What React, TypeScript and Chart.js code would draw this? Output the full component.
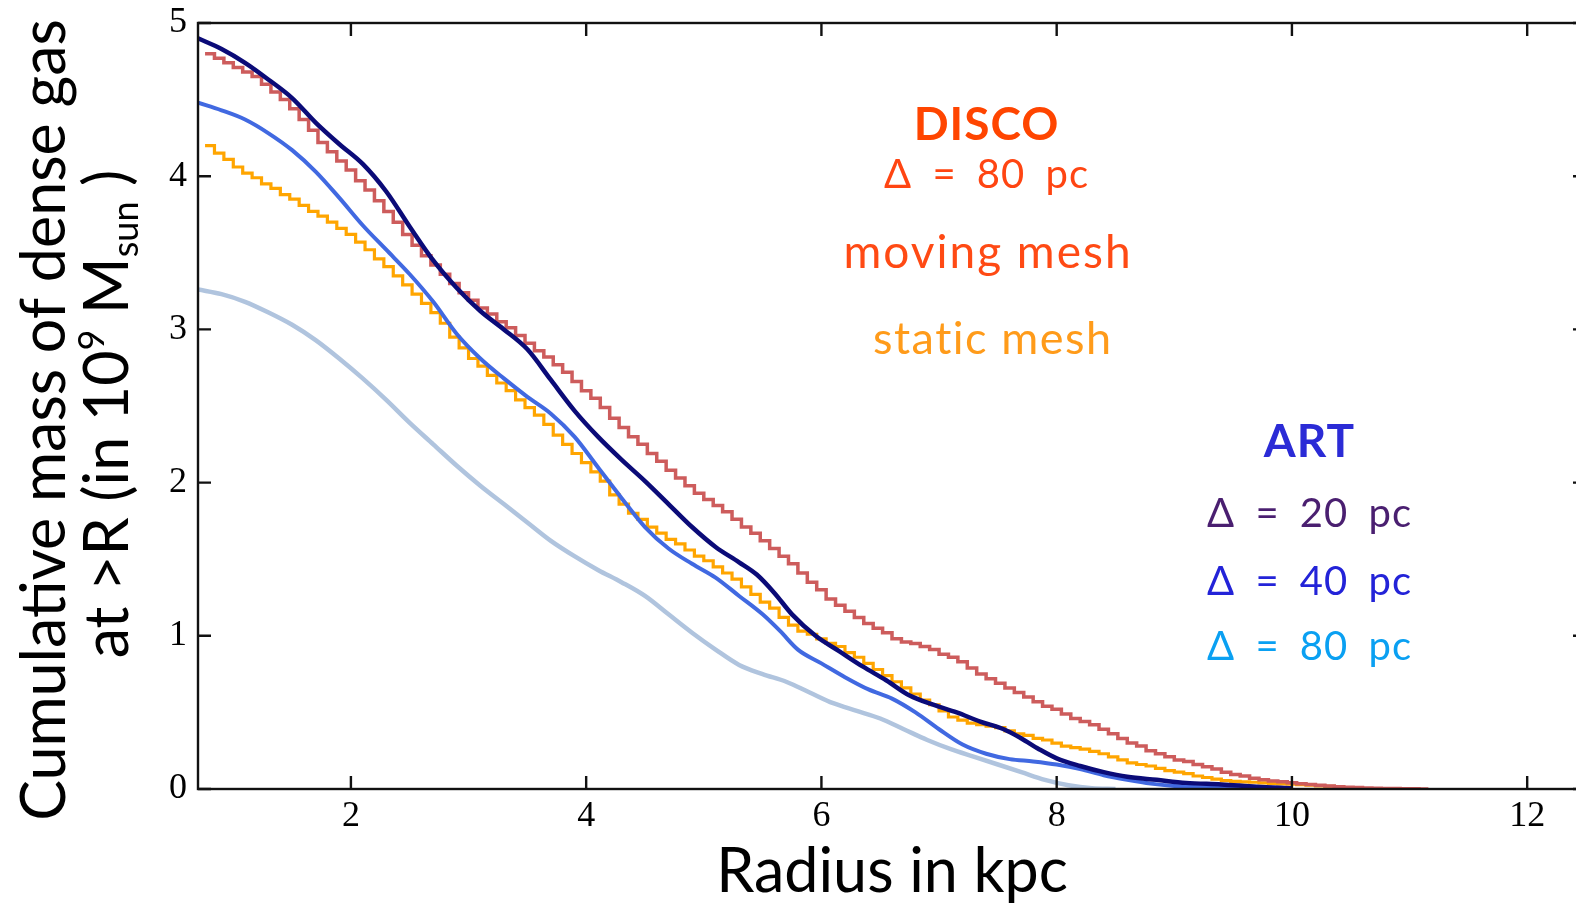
import React, { useEffect, useRef } from "react";
import { Chart, registerables } from "chart.js";

Chart.register(...registerables);

// ---------- data ----------
const X_TICKS = [2, 4, 6, 8, 10, 12];
const Y_TICKS = [0, 1, 2, 3, 4, 5];

// DISCO histogram bin edges (kpc), 80 pc bins
const BIN_EDGES = [
  0.76, 0.84, 0.92, 1.0, 1.08, 1.16, 1.24, 1.32, 1.4, 1.48,
  1.56, 1.64, 1.72, 1.8, 1.88, 1.96, 2.04, 2.12, 2.2, 2.28,
  2.36, 2.44, 2.52, 2.6, 2.68, 2.76, 2.84, 2.92, 3.0, 3.08,
  3.16, 3.24, 3.32, 3.4, 3.48, 3.56, 3.64, 3.72, 3.8, 3.88,
  3.96, 4.04, 4.12, 4.2, 4.28, 4.36, 4.44, 4.52, 4.6, 4.68,
  4.76, 4.84, 4.92, 5.0, 5.08, 5.16, 5.24, 5.32, 5.4, 5.48,
  5.56, 5.64, 5.72, 5.8, 5.88, 5.96, 6.04, 6.12, 6.2, 6.28,
  6.36, 6.44, 6.52, 6.6, 6.68, 6.76, 6.84, 6.92, 7.0, 7.08,
  7.16, 7.24, 7.32, 7.4, 7.48, 7.56, 7.64, 7.72, 7.8, 7.88,
  7.96, 8.04, 8.12, 8.2, 8.28, 8.36, 8.44, 8.52, 8.6, 8.68,
  8.76, 8.84, 8.92, 9.0, 9.08, 9.16, 9.24, 9.32, 9.4, 9.48,
  9.56, 9.64, 9.72, 9.8, 9.88, 9.96, 10.04, 10.12, 10.2, 10.28,
  10.36, 10.44, 10.52, 10.6, 10.68, 10.76, 10.84, 10.92, 11.0, 11.08,
  11.16,
];

// DISCO moving mesh (indian red, stepped)
const DISCO_MOVING = [
  4.8, 4.77, 4.74, 4.71, 4.68, 4.65, 4.6, 4.55, 4.5, 4.44,
  4.37, 4.3, 4.22, 4.16, 4.1, 4.04, 3.97, 3.91, 3.84, 3.77,
  3.7, 3.62, 3.55, 3.48, 3.42, 3.36, 3.3, 3.24, 3.19, 3.14,
  3.1, 3.05, 3.01, 2.96, 2.91, 2.86, 2.82, 2.77, 2.72, 2.66,
  2.6, 2.55, 2.49, 2.42, 2.36, 2.3, 2.25, 2.19, 2.14, 2.08,
  2.03, 1.98, 1.93, 1.89, 1.85, 1.81, 1.76, 1.71, 1.67, 1.62,
  1.57, 1.52, 1.47, 1.41, 1.35, 1.3, 1.24, 1.2, 1.16, 1.12,
  1.08, 1.05, 1.02, 0.98, 0.96, 0.95, 0.93, 0.91, 0.88, 0.86,
  0.83, 0.79, 0.75, 0.72, 0.69, 0.66, 0.63, 0.6, 0.57, 0.54,
  0.52, 0.49, 0.46, 0.44, 0.42, 0.39, 0.36, 0.33, 0.3, 0.28,
  0.25, 0.23, 0.21, 0.19, 0.18, 0.16, 0.145, 0.13, 0.11, 0.095,
  0.085, 0.07, 0.06, 0.053, 0.047, 0.04, 0.035, 0.03, 0.024, 0.019,
  0.015, 0.012, 0.01, 0.007, 0.005, 0.004, 0.003, 0.002, 0.001, 0.0005,
];

// DISCO static mesh (orange, stepped)
const DISCO_STATIC = [
  4.2, 4.15, 4.11, 4.06, 4.02, 3.99, 3.95, 3.92, 3.88, 3.85,
  3.81, 3.77, 3.74, 3.7, 3.66, 3.62, 3.57, 3.52, 3.46, 3.41,
  3.35, 3.29, 3.23, 3.17, 3.11, 3.04, 2.95, 2.88, 2.81, 2.76,
  2.7, 2.65, 2.6, 2.54, 2.49, 2.44, 2.38, 2.31, 2.25, 2.19,
  2.13, 2.07, 2.01, 1.92, 1.86, 1.8, 1.76, 1.71, 1.67, 1.63,
  1.6, 1.56, 1.52, 1.49, 1.45, 1.41, 1.37, 1.32, 1.27, 1.22,
  1.18, 1.12, 1.07, 1.03, 1.01, 0.98, 0.95, 0.93, 0.89, 0.86,
  0.82, 0.78, 0.74, 0.7, 0.66, 0.62, 0.58, 0.55, 0.51, 0.47,
  0.45, 0.43, 0.42, 0.41, 0.4, 0.38, 0.36, 0.35, 0.33, 0.32,
  0.3, 0.28, 0.27, 0.26, 0.245, 0.23, 0.21, 0.19, 0.17, 0.16,
  0.15, 0.135, 0.12, 0.11, 0.1, 0.085, 0.075, 0.065, 0.055, 0.05,
  0.047, 0.044, 0.04, 0.037, 0.034, 0.031, 0.028, 0.025, 0.021, 0.018,
  0.014, 0.009, 0.004,
];

// ART, Δ = 20 pc (navy)
const ART20_R = [
  0.7, 0.9, 1.1, 1.3, 1.5, 1.7, 1.9, 2.1, 2.3, 2.5, 2.7, 2.9, 3.1, 3.3, 3.5,
  3.7, 3.9, 4.1, 4.3, 4.5, 4.7, 4.9, 5.1, 5.3, 5.45, 5.6, 5.75, 5.95, 6.15,
  6.35, 6.55, 6.75, 6.95, 7.15, 7.35, 7.55, 7.7, 7.85, 8.0, 8.2, 8.4, 8.6,
  8.85, 9.1, 9.4, 9.7, 10.0,
];
const ART20_M = [
  4.9, 4.83, 4.74, 4.63, 4.51, 4.35, 4.21, 4.08, 3.9, 3.67, 3.45, 3.27, 3.12,
  3.0, 2.87, 2.67, 2.47, 2.3, 2.15, 2.01, 1.86, 1.71, 1.58, 1.48, 1.4, 1.28,
  1.14, 1.0, 0.9, 0.8, 0.71, 0.61, 0.55, 0.5, 0.44, 0.39, 0.33, 0.26, 0.2,
  0.15, 0.11, 0.08, 0.06, 0.04, 0.03, 0.015, 0.005,
];

// ART, Δ = 40 pc (royal blue)
const ART40_R = [
  0.7, 0.9, 1.1, 1.3, 1.5, 1.7, 1.9, 2.1, 2.3, 2.5, 2.7, 2.9, 3.1, 3.3, 3.5,
  3.7, 3.9, 4.1, 4.3, 4.5, 4.7, 4.9, 5.1, 5.3, 5.5, 5.65, 5.8, 6.0, 6.2, 6.4,
  6.6, 6.8, 7.0, 7.2, 7.4, 7.6, 7.8, 8.0, 8.2, 8.4, 8.6, 8.8, 9.0, 9.3, 9.6,
  9.9,
];
const ART40_M = [
  4.48, 4.43, 4.37, 4.28, 4.17, 4.03, 3.86, 3.68, 3.52, 3.36, 3.18, 2.97,
  2.81, 2.68, 2.56, 2.45, 2.3, 2.1, 1.9, 1.71, 1.57, 1.47, 1.38, 1.26, 1.14,
  1.03, 0.91, 0.82, 0.73, 0.65, 0.59, 0.5, 0.39, 0.29, 0.23, 0.195, 0.18,
  0.16, 0.13, 0.09, 0.06, 0.035, 0.02, 0.01, 0.003, 0.0,
];

// ART, Δ = 80 pc (light steel blue)
const ART80_R = [
  0.7, 0.9, 1.1, 1.3, 1.5, 1.7, 1.9, 2.1, 2.3, 2.5, 2.7, 2.9, 3.1, 3.3, 3.5,
  3.7, 3.9, 4.1, 4.3, 4.5, 4.7, 4.9, 5.1, 5.3, 5.5, 5.7, 5.9, 6.1, 6.3, 6.5,
  6.7, 6.9, 7.1, 7.3, 7.5, 7.7, 7.9, 8.1, 8.3, 8.5,
];
const ART80_M = [
  3.26, 3.23, 3.18, 3.11, 3.03, 2.93, 2.81, 2.68, 2.54, 2.39, 2.25, 2.11, 1.98,
  1.86, 1.74, 1.62, 1.52, 1.43, 1.35, 1.26, 1.14, 1.02, 0.91, 0.81, 0.75, 0.7,
  0.63, 0.56, 0.51, 0.46, 0.39, 0.32, 0.26, 0.21, 0.16, 0.11, 0.06, 0.025,
  0.005, 0.0,
];

// ---------- helpers ----------
function stepPoints(vals: number[]) {
  const pts = vals.map((v, i) => ({ x: BIN_EDGES[i], y: v }));
  pts.push({ x: BIN_EDGES[vals.length], y: vals[vals.length - 1] });
  return pts;
}
function linePoints(rs: number[], ms: number[]) {
  return rs.map((r, i) => ({ x: r, y: ms[i] }));
}

const SANS = "Lato, 'Open Sans', sans-serif";

function drawText(
  ctx: CanvasRenderingContext2D,
  text: string,
  x: number,
  y: number,
  font: string,
  color: string,
  spacing: number,
  wordSpacing = 0
) {
  ctx.save();
  ctx.font = font;
  ctx.fillStyle = color;
  (ctx as any).letterSpacing = spacing + "px";
  (ctx as any).wordSpacing = wordSpacing + "px";
  ctx.textAlign = "center";
  ctx.textBaseline = "alphabetic";
  ctx.fillText(text, x + spacing / 2, y);
  ctx.restore();
}

const framePlugin = {
  id: "frameAndText",
  afterDraw(chart: any) {
    const ctx: CanvasRenderingContext2D = chart.ctx;
    const { left, right, top, bottom } = chart.chartArea;
    const xs = chart.scales.x;
    const ys = chart.scales.y;
    ctx.save();
    ctx.strokeStyle = "#111";
    ctx.lineWidth = 2.4;
    ctx.strokeRect(left, top, right - left, bottom - top);
    const TL = 13;
    ctx.beginPath();
    X_TICKS.forEach((v) => {
      const px = xs.getPixelForValue(v);
      ctx.moveTo(px, bottom);
      ctx.lineTo(px, bottom - TL);
      ctx.moveTo(px, top);
      ctx.lineTo(px, top + TL);
    });
    Y_TICKS.forEach((v) => {
      const py = ys.getPixelForValue(v);
      ctx.moveTo(left, py);
      ctx.lineTo(left + TL, py);
      ctx.moveTo(right, py);
      ctx.lineTo(right - TL, py);
    });
    ctx.stroke();
    ctx.restore();

    // axis titles
    drawText(ctx, "Radius in kpc", 892, 892, `61px ${SANS}`, "#000", 0);

    ctx.save();
    ctx.translate(65, 420);
    ctx.rotate(-Math.PI / 2);
    ctx.font = `61px ${SANS}`;
    ctx.fillStyle = "#000";
    ctx.textAlign = "center";
    ctx.textBaseline = "alphabetic";
    ctx.fillText("Cumulative mass of dense gas", 0, 0);
    ctx.restore();

    ctx.save();
    ctx.translate(128, 414);
    ctx.rotate(-Math.PI / 2);
    ctx.fillStyle = "#000";
    ctx.textAlign = "left";
    ctx.textBaseline = "alphabetic";
    const big = `61px ${SANS}`;
    const small = `36px ${SANS}`;
    const parts: [string, string, number][] = [
      ["at >R (in 10", big, 0],
      ["9", small, -24],
      [" M", big, 0],
      ["sun", small, 10],
      [" )", big, 0],
    ];
    let total = 0;
    const widths = parts.map(([t, f]) => {
      ctx.font = f;
      const w = ctx.measureText(t).width;
      total += w;
      return w;
    });
    let cx = -total / 2;
    parts.forEach(([t, f, dy], i) => {
      ctx.font = f;
      ctx.fillText(t, cx, dy);
      cx += widths[i];
    });
    ctx.restore();

    // annotations
    drawText(ctx, "DISCO", 986, 140, `bold 46px ${SANS}`, "#FF4500", 1);
    drawText(ctx, "Δ = 80 pc", 986, 188, `40px ${SANS}`, "#FF4512", 1, 9);
    drawText(ctx, "moving mesh", 987, 268, `46px ${SANS}`, "#FF4A14", 2);
    drawText(ctx, "static mesh", 992, 354, `45px ${SANS}`, "#FF9B1A", 1.5);
    drawText(ctx, "ART", 1309, 457, `bold 46px ${SANS}`, "#2B2BD6", 1);
    drawText(ctx, "Δ = 20 pc", 1309, 527, `40px ${SANS}`, "#4A1F70", 1, 9);
    drawText(ctx, "Δ = 40 pc", 1309, 595, `40px ${SANS}`, "#2323D8", 1, 9);
    drawText(ctx, "Δ = 80 pc", 1309, 660, `40px ${SANS}`, "#0AA0F2", 1, 9);
  },
};

export default function App() {
  const ref = useRef<HTMLCanvasElement>(null);

  useEffect(() => {
    if (!ref.current) return;
    const family = "'Liberation Serif', 'DejaVu Serif', serif";
    const chart = new Chart(ref.current, {
      type: "line",
      data: {
        datasets: [
          {
            label: "ART Δ = 20 pc",
            data: linePoints(ART20_R, ART20_M),
            borderColor: "#0B0B78",
            borderWidth: 4.5,
            cubicInterpolationMode: "monotone",
            pointRadius: 0,
          },
          {
            label: "ART Δ = 40 pc",
            data: linePoints(ART40_R, ART40_M),
            borderColor: "#4169E1",
            borderWidth: 4,
            cubicInterpolationMode: "monotone",
            pointRadius: 0,
          },
          {
            label: "DISCO moving mesh",
            data: stepPoints(DISCO_MOVING),
            borderColor: "#CD5C5C",
            borderWidth: 3.5,
            stepped: "before",
            pointRadius: 0,
          },
          {
            label: "DISCO static mesh",
            data: stepPoints(DISCO_STATIC),
            borderColor: "#FFA500",
            borderWidth: 3.2,
            stepped: "before",
            pointRadius: 0,
          },
          {
            label: "ART Δ = 80 pc",
            data: linePoints(ART80_R, ART80_M),
            borderColor: "#B0C4DE",
            borderWidth: 4.5,
            cubicInterpolationMode: "monotone",
            pointRadius: 0,
          },
        ],
      },
      options: {
        animation: false,
        responsive: false,
        devicePixelRatio: 1,
        layout: { padding: { top: 23, right: 14, left: 0, bottom: 0 } },
        plugins: {
          legend: { display: false },
          tooltip: { enabled: false },
        },
        scales: {
          x: {
            type: "linear",
            min: 0.7,
            max: 12.5,
            grid: { display: false, drawTicks: false },
            border: { display: false },
            afterBuildTicks: (s: any) => {
              s.ticks = X_TICKS.map((v) => ({ value: v }));
            },
            afterFit: (s: any) => {
              s.height = 115;
            },
            ticks: {
              font: { family, size: 36 },
              color: "#000",
              padding: 6,
              maxRotation: 0,
              autoSkip: false,
            },
          },
          y: {
            type: "linear",
            min: 0,
            max: 5,
            grid: { display: false, drawTicks: false },
            border: { display: false },
            afterBuildTicks: (s: any) => {
              s.ticks = Y_TICKS.map((v) => ({ value: v }));
            },
            afterFit: (s: any) => {
              s.width = 198;
            },
            ticks: {
              font: { family, size: 36, lineHeight: 0.5 },
              color: "#000",
              padding: 11,
              autoSkip: false,
            },
          },
        },
      },
      plugins: [framePlugin],
    } as any);
    return () => chart.destroy();
  }, []);

  return (
    <div
      style={{
        position: "fixed",
        left: 0,
        top: 0,
        width: 1576,
        height: 904,
        overflow: "hidden",
        background: "#fff",
      }}
    >
      <canvas
        ref={ref}
        width={1600}
        height={904}
        style={{ display: "block", width: 1600, height: 904 }}
      />
    </div>
  );
}
